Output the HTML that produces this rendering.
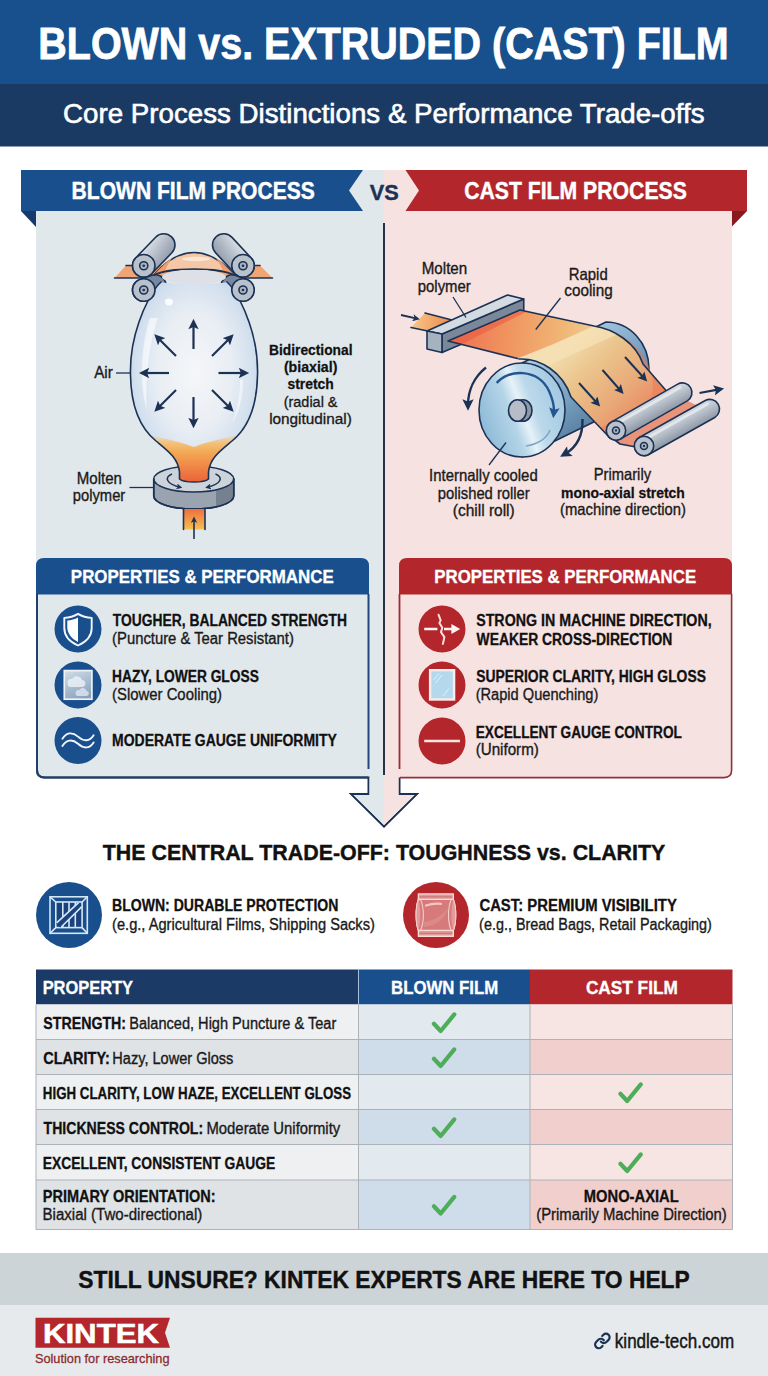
<!DOCTYPE html>
<html><head><meta charset="utf-8"><title>Blown vs. Extruded (Cast) Film</title>
<style>
html,body{margin:0;padding:0;background:#fff;}
body{width:768px;height:1376px;overflow:hidden;font-family:"Liberation Sans",sans-serif;}
svg{display:block;font-family:"Liberation Sans",sans-serif;}
</style></head><body>
<svg width="768" height="1376" viewBox="0 0 768 1376">
<defs>
<linearGradient id="gTop" x1="0" y1="0" x2="0" y2="1"><stop offset="0" stop-color="#1a4a89"/><stop offset="1" stop-color="#1c5192"/></linearGradient>
<linearGradient id="gCyl" x1="0" y1="0" x2="0" y2="1"><stop offset="0" stop-color="#dfe3e8"/><stop offset="0.5" stop-color="#aab3bf"/><stop offset="1" stop-color="#8893a2"/></linearGradient>
<radialGradient id="gBub" cx="0.5" cy="0.45" r="0.58"><stop offset="0" stop-color="#f5f6f8"/><stop offset="0.5" stop-color="#e9eef4"/><stop offset="0.8" stop-color="#d3e0ee"/><stop offset="1" stop-color="#bcd1e8"/></radialGradient>
<linearGradient id="gMelt" gradientUnits="userSpaceOnUse" x1="0" y1="432" x2="0" y2="482"><stop offset="0" stop-color="#f6c98a" stop-opacity="0"/><stop offset="0.22" stop-color="#f5bd6c" stop-opacity="0.9"/><stop offset="0.4" stop-color="#f3a955"/><stop offset="1" stop-color="#ec6238"/></linearGradient>
<linearGradient id="gFilm" x1="0" y1="0" x2="1" y2="0"><stop offset="0" stop-color="#ee6d4a"/><stop offset="0.5" stop-color="#f2a160"/><stop offset="1" stop-color="#f3cf98"/></linearGradient>
<linearGradient id="gFilm2" x1="0" y1="0" x2="1" y2="1"><stop offset="0" stop-color="#f3d29c"/><stop offset="0.5" stop-color="#eea068"/><stop offset="1" stop-color="#ec7a55"/></linearGradient>
<linearGradient id="gRoll" x1="0.05" y1="0.68" x2="0.95" y2="0.32"><stop offset="0" stop-color="#8fbbd8"/><stop offset="0.36" stop-color="#b5d5e8"/><stop offset="0.5" stop-color="#e6f2f8"/><stop offset="0.64" stop-color="#bcd9ea"/><stop offset="1" stop-color="#a3c9e1"/></linearGradient>
<linearGradient id="gGlass" x1="0" y1="0" x2="1" y2="1"><stop offset="0" stop-color="#d9ecf7"/><stop offset="1" stop-color="#9fcbe6"/></linearGradient>
<linearGradient id="gHaze" x1="0.2" y1="0" x2="0.6" y2="1"><stop offset="0" stop-color="#cdd9e5"/><stop offset="1" stop-color="#8aa3bd"/></linearGradient>
<marker id="ah" viewBox="0 0 10 10" refX="5" refY="5" markerWidth="5" markerHeight="4.7" orient="auto-start-reverse"><path d="M0,0 L10,5 L0,10 L2,5 z" fill="#1c3254"/></marker>
<marker id="ahb" viewBox="0 0 10 10" refX="5" refY="5" markerWidth="4.6" markerHeight="4.4" orient="auto-start-reverse"><path d="M0,0 L10,5 L0,10 L2,5 z" fill="#245590"/></marker>
<marker id="ahs" viewBox="0 0 10 10" refX="6" refY="5" markerWidth="4" markerHeight="4" orient="auto-start-reverse"><path d="M0,0 L10,5 L0,10 L2.5,5 z" fill="#1c3254"/></marker>
</defs>
<rect x="0" y="0" width="768" height="84" fill="#17508c"/>
<rect x="0" y="84" width="768" height="62.5" fill="#1a3a64"/>
<text x="38.36" y="59.00" font-size="43.50" font-weight="bold" fill="#fff" stroke="#fff" stroke-width="0.78" textLength="690.28" lengthAdjust="spacingAndGlyphs">BLOWN vs. EXTRUDED (CAST) FILM</text>
<text x="63.10" y="123.00" font-size="26.80" fill="#fff" stroke="#fff" stroke-width="0.59" textLength="641.40" lengthAdjust="spacingAndGlyphs">Core Process Distinctions &amp; Performance Trade-offs</text>
<path d="M36,170 H384 V800 H368 V778 H44 Q36,778 36,770 Z" fill="#e1e8ec"/>
<path d="M384,170 H732 V770 Q732,778 724,778 H399 V800 H384 Z" fill="#f5e2e1"/>
<path d="M21,170 H363 L349,190.5 L363,211 H21 Z" fill="#1a4f8e"/>
<path d="M21,211 H36 V227 Z" fill="#153a6b"/>
<path d="M747,170 H405.5 L419,190.5 L405.5,211 H747 Z" fill="#b3272c"/>
<path d="M747,211 H732 V226.5 Z" fill="#87191f"/>
<text x="71.59" y="199.00" font-size="23.00" font-weight="bold" fill="#fff" stroke="#fff" stroke-width="0.41" textLength="243.23" lengthAdjust="spacingAndGlyphs">BLOWN FILM PROCESS</text>
<text x="464.13" y="199.00" font-size="23.00" font-weight="bold" fill="#fff" stroke="#fff" stroke-width="0.41" textLength="222.70" lengthAdjust="spacingAndGlyphs">CAST FILM PROCESS</text>
<text x="369.85" y="200.00" font-size="22.50" font-weight="bold" fill="#1c3254" stroke="#1c3254" stroke-width="0.40" textLength="29.00" lengthAdjust="spacingAndGlyphs">VS</text>
<rect x="383" y="223" width="2" height="552" fill="#243147"/>
<path d="M114.5,278 L126,265.5 H260 L272.5,278 Z" fill="#f0a674"/>
<path d="M114.5,278 H272.5" fill="none" stroke="#1c3254" stroke-width="1.6" stroke-linejoin="round" stroke-linecap="round"/>
<path d="M126,265.5 H135 M251,265.5 H260" fill="none" stroke="#1c3254" stroke-width="1.6" stroke-linejoin="round" stroke-linecap="round"/>
<path d="M154,275 C165,262 178,252.5 194,252.5 C210,252.5 223,262 234,275 C220,268 168,268 154,275 Z" fill="#f4c8a6" stroke="#1c3254" stroke-width="1.6" stroke-linejoin="round" stroke-linecap="round"/>
<path d="M154,275 C160,268 166,262 172,258 C168,264 166,268 165,271 Z" fill="#ef9c6c"/>
<path d="M234,275 C228,268 222,262 216,258 C220,264 222,268 223,271 Z" fill="#ef9c6c"/>
<ellipse cx="196" cy="259" rx="14" ry="2.2" fill="#fbe6d6"/>
<linearGradient id="gCylL" gradientUnits="userSpaceOnUse" x1="140" y1="250" x2="165" y2="268"><stop offset="0" stop-color="#e3e7ec"/><stop offset="0.5" stop-color="#b4bcc8"/><stop offset="1" stop-color="#8b95a4"/></linearGradient>
<linearGradient id="gCylR" gradientUnits="userSpaceOnUse" x1="247" y1="250" x2="222" y2="268"><stop offset="0" stop-color="#e3e7ec"/><stop offset="0.5" stop-color="#b4bcc8"/><stop offset="1" stop-color="#8b95a4"/></linearGradient>
<path d="M147.52,300.60 L158.77,296.60 A11.25,11.25 0 0 0 151.23,275.40 L139.98,279.40 A11.25,11.25 0 0 0 147.52,300.60 Z" fill="#7687a0" stroke="#1c3254" stroke-width="1.6" stroke-linejoin="round" stroke-linecap="round"/>
<path d="M246.84,279.43 L235.84,275.43 A11.25,11.25 0 0 0 228.16,296.57 L239.16,300.57 A11.25,11.25 0 0 0 246.84,279.43 Z" fill="#7687a0" stroke="#1c3254" stroke-width="1.6" stroke-linejoin="round" stroke-linecap="round"/>
<path d="M153.75,479 V496 A40,13 0 0 0 233.75,496 V479 Z" fill="#9aa4b1" stroke="#1c3254" stroke-width="1.6" stroke-linejoin="round" stroke-linecap="round"/>
<path d="M216,490.5 V507.5 A40,13 0 0 0 233.75,496 V479 A40,13 0 0 1 216,490.5 Z" fill="#76818f"/>
<ellipse cx="193.75" cy="479" rx="40" ry="13" fill="#cdd3da" stroke="#1c3254" stroke-width="1.6" stroke-linejoin="round" stroke-linecap="round"/>
<path d="M153.75,479 V496 A40,13 0 0 0 233.75,496 V479" fill="none" stroke="#1c3254" stroke-width="1.6" stroke-linejoin="round" stroke-linecap="round"/>
<path d="M172,474 C164,477 166,484 180,487.2" stroke="#1c3254" stroke-width="1.5" fill="none" marker-end="url(#ahs)"/>
<path d="M215.5,474 C223.5,477 221.5,484 207.5,487.2" stroke="#1c3254" stroke-width="1.5" fill="none" marker-end="url(#ahs)"/>
<clipPath id="cBub"><path d="M161,282 C172,285 216,285 227,282 C236,290 245,310 249,322 C256,342 258,358 257.5,375 C257,405 248,428 232,441 C220,451 210,458 208.5,472 L208.5,479 C204,483 184,483 179.5,479 L179.5,472 C178,458 168,451 156,441 C140,428 131,405 130.5,375 C130,358 132,342 139,322 C143,310 152,290 161,282 Z"/></clipPath>
<path d="M161,282 C172,285 216,285 227,282 C236,290 245,310 249,322 C256,342 258,358 257.5,375 C257,405 248,428 232,441 C220,451 210,458 208.5,472 L208.5,479 C204,483 184,483 179.5,479 L179.5,472 C178,458 168,451 156,441 C140,428 131,405 130.5,375 C130,358 132,342 139,322 C143,310 152,290 161,282 Z" fill="url(#gBub)"/>
<g clip-path="url(#cBub)">
<path d="M125,430 C150,436 170,438 194,447 C218,438 238,436 263,430 V495 H125 Z" fill="url(#gMelt)"/>
<path d="M150,318 C141,345 139,385 147,410 C145,385 148,345 158,318 Z" fill="#fff" opacity="0.6"/><path d="M243,380 C243,398 239,412 232,424 C237,410 240,396 240,380 Z" fill="#fff" opacity="0.5"/>
<ellipse cx="169" cy="302" rx="4" ry="3.4" fill="#fff" opacity="0.85"/>
</g>
<path d="M227,282 C236,290 245,310 249,322 C256,342 258,358 257.5,375 C257,405 248,428 232,441 C220,451 210,458 208.5,472 L208.5,479 C204,483 184,483 179.5,479 L179.5,472 C178,458 168,451 156,441 C140,428 131,405 130.5,375 C130,358 132,342 139,322 C143,310 152,290 161,282" fill="none" stroke="#1c3254" stroke-width="1.6" stroke-linejoin="round" stroke-linecap="round"/>
<ellipse cx="194" cy="277" rx="32" ry="7.5" fill="#dde1e7"/>
<path d="M154,275 C168,267 220,267 234,275" fill="none" stroke="#1c3254" stroke-width="1.6" stroke-linejoin="round" stroke-linecap="round"/>
<path d="M151.85,273.56 L171.85,252.81 A11.25,11.25 0 0 0 155.65,237.19 L135.65,257.94 A11.25,11.25 0 0 0 151.85,273.56 Z" fill="url(#gCylL)" stroke="#1c3254" stroke-width="1.6" stroke-linejoin="round" stroke-linecap="round"/>
<path d="M251.25,258.10 L232.00,237.35 A11.25,11.25 0 0 0 215.50,252.65 L234.75,273.40 A11.25,11.25 0 0 0 251.25,258.10 Z" fill="url(#gCylR)" stroke="#1c3254" stroke-width="1.6" stroke-linejoin="round" stroke-linecap="round"/>
<circle cx="143.75" cy="265.75" r="11.25" fill="#b9c1cc" stroke="#1c3254" stroke-width="1.6" stroke-linejoin="round" stroke-linecap="round"/>
<circle cx="143.75" cy="265.75" r="4.05" fill="#aab3c0" stroke="#1c3254" stroke-width="1.6" stroke-linejoin="round" stroke-linecap="round"/>
<circle cx="143.75" cy="265.75" r="1.35" fill="#1c3254"/>
<circle cx="243.00" cy="265.75" r="11.25" fill="#b9c1cc" stroke="#1c3254" stroke-width="1.6" stroke-linejoin="round" stroke-linecap="round"/>
<circle cx="243.00" cy="265.75" r="4.05" fill="#aab3c0" stroke="#1c3254" stroke-width="1.6" stroke-linejoin="round" stroke-linecap="round"/>
<circle cx="243.00" cy="265.75" r="1.35" fill="#1c3254"/>
<circle cx="143.75" cy="290.00" r="11.25" fill="#b9c1cc" stroke="#1c3254" stroke-width="1.6" stroke-linejoin="round" stroke-linecap="round"/>
<circle cx="143.75" cy="290.00" r="4.05" fill="#aab3c0" stroke="#1c3254" stroke-width="1.6" stroke-linejoin="round" stroke-linecap="round"/>
<circle cx="143.75" cy="290.00" r="1.35" fill="#1c3254"/>
<circle cx="243.00" cy="290.00" r="11.25" fill="#b9c1cc" stroke="#1c3254" stroke-width="1.6" stroke-linejoin="round" stroke-linecap="round"/>
<circle cx="243.00" cy="290.00" r="4.05" fill="#aab3c0" stroke="#1c3254" stroke-width="1.6" stroke-linejoin="round" stroke-linecap="round"/>
<circle cx="243.00" cy="290.00" r="1.35" fill="#1c3254"/>
<line x1="193.5" y1="349.0" x2="193.5" y2="324.0" stroke="#1c3254" stroke-width="2.2" fill="none" marker-end="url(#ah)"/>
<line x1="193.5" y1="397.0" x2="193.5" y2="423.0" stroke="#1c3254" stroke-width="2.2" fill="none" marker-end="url(#ah)"/>
<line x1="169.0" y1="373.0" x2="144.0" y2="373.0" stroke="#1c3254" stroke-width="2.2" fill="none" marker-end="url(#ah)"/>
<line x1="218.5" y1="373.0" x2="244.0" y2="373.0" stroke="#1c3254" stroke-width="2.2" fill="none" marker-end="url(#ah)"/>
<line x1="176.0" y1="356.0" x2="158.0" y2="338.0" stroke="#1c3254" stroke-width="2.2" fill="none" marker-end="url(#ah)"/>
<line x1="212.0" y1="356.0" x2="230.0" y2="338.0" stroke="#1c3254" stroke-width="2.2" fill="none" marker-end="url(#ah)"/>
<line x1="176.0" y1="390.0" x2="158.0" y2="408.0" stroke="#1c3254" stroke-width="2.2" fill="none" marker-end="url(#ah)"/>
<line x1="212.0" y1="390.0" x2="230.0" y2="408.0" stroke="#1c3254" stroke-width="2.2" fill="none" marker-end="url(#ah)"/>
<text x="94.22" y="377.50" font-size="16.50" fill="#1a1a1a" stroke="#1a1a1a" stroke-width="0.36" textLength="18.53" lengthAdjust="spacingAndGlyphs">Air</text>
<line x1="116" y1="373" x2="130" y2="373" stroke="#1c3254" stroke-width="1.3"/>
<linearGradient id="gFeed" x1="0" y1="0" x2="0" y2="1"><stop offset="0" stop-color="#ee6f3e"/><stop offset="1" stop-color="#f5c04f"/></linearGradient>
<rect x="183.5" y="509" width="21.5" height="20.5" fill="url(#gFeed)"/>
<path d="M183.5,509 V529.5 M205,509 V529.5" fill="none" stroke="#1c3254" stroke-width="1.6" stroke-linejoin="round" stroke-linecap="round"/>
<line x1="194" y1="539" x2="194" y2="519" stroke="#1c3254" stroke-width="1.6" marker-end="url(#ahs)"/>
<text x="76.76" y="483.75" font-size="16.50" fill="#1a1a1a" stroke="#1a1a1a" stroke-width="0.36" textLength="45.21" lengthAdjust="spacingAndGlyphs">Molten</text>
<text x="72.80" y="501.25" font-size="16.50" fill="#1a1a1a" stroke="#1a1a1a" stroke-width="0.36" textLength="52.45" lengthAdjust="spacingAndGlyphs">polymer</text>
<line x1="129.5" y1="487.5" x2="153.75" y2="487.5" stroke="#1c3254" stroke-width="1.3"/>
<text x="269.08" y="355.00" font-size="15.00" font-weight="bold" fill="#111" stroke="#111" stroke-width="0.27" textLength="83.40" lengthAdjust="spacingAndGlyphs">Bidirectional</text>
<text x="283.89" y="372.00" font-size="15.00" font-weight="bold" fill="#111" stroke="#111" stroke-width="0.27" textLength="53.51" lengthAdjust="spacingAndGlyphs">(biaxial)</text>
<text x="287.51" y="389.40" font-size="15.00" font-weight="bold" fill="#111" stroke="#111" stroke-width="0.27" textLength="46.35" lengthAdjust="spacingAndGlyphs">stretch</text>
<text x="283.70" y="407.00" font-size="15.50" fill="#1a1a1a" stroke="#1a1a1a" stroke-width="0.34" textLength="53.82" lengthAdjust="spacingAndGlyphs">(radial &amp;</text>
<text x="269.17" y="424.20" font-size="15.50" fill="#1a1a1a" stroke="#1a1a1a" stroke-width="0.34" textLength="82.58" lengthAdjust="spacingAndGlyphs">longitudinal)</text>
<linearGradient id="gFeed2" gradientUnits="userSpaceOnUse" x1="411" y1="320" x2="450" y2="325"><stop offset="0" stop-color="#f6c98c"/><stop offset="1" stop-color="#ee8a4e"/></linearGradient>
<path d="M425,313 L452,320 L440,334 L411,327.5 Z" fill="url(#gFeed2)"/>
<path d="M425,313 L452,320 M411,327.5 L430,331.5" fill="none" stroke="#1c3254" stroke-width="1.6" stroke-linejoin="round" stroke-linecap="round"/>
<line x1="401" y1="315" x2="417" y2="318.6" stroke="#1c3254" stroke-width="1.8" marker-end="url(#ahs)"/>
<linearGradient id="gBody" gradientUnits="userSpaceOnUse" x1="535" y1="360" x2="590" y2="440"><stop offset="0" stop-color="#a9cbe3"/><stop offset="0.45" stop-color="#7ea6c5"/><stop offset="1" stop-color="#4f7697"/></linearGradient>
<path d="M522,363 L606,322 A43,47 0 0 1 649,369 A43,47 0 0 1 606,416 L522,457 Z" fill="url(#gBody)" stroke="#1c3254" stroke-width="1.6" stroke-linejoin="round" stroke-linecap="round"/>
<linearGradient id="gF1" gradientUnits="userSpaceOnUse" x1="455" y1="335" x2="600" y2="350"><stop offset="0" stop-color="#ee7252"/><stop offset="0.35" stop-color="#f0935f"/><stop offset="0.75" stop-color="#f0b877"/><stop offset="1" stop-color="#eecf9a"/></linearGradient>
<linearGradient id="gF2" gradientUnits="userSpaceOnUse" x1="570" y1="345" x2="640" y2="420"><stop offset="0" stop-color="#f1dbac"/><stop offset="0.3" stop-color="#ebc48c"/><stop offset="0.7" stop-color="#e9a877"/><stop offset="1" stop-color="#ea8a64"/></linearGradient>
<path d="M442,334 L523.75,299 L523.75,317.5 L442,352.5 Z" fill="#7b8899" stroke="#1c3254" stroke-width="1.6" stroke-linejoin="round" stroke-linecap="round"/>
<path d="M519,359 C540,358 563,372 571,397 L610,438 L676,402 L643,364 C636,343 614,329 594,326 Z" fill="url(#gF2)"/>
<path d="M448,341 L520,310 L594,326 C575,335 540,350 517.5,358.5 Z" fill="url(#gF1)"/>
<path d="M521,359 L594,326 C604,327 612,330 618,334 L547,366 C540,362 531,359.5 521,359 Z" fill="#f7e3b8" opacity="0.65"/>
<path d="M604,328 C640,338 668,378 644,415 L610,438 L676,402 L643,364 C636,343 614,329 594,326 Z" fill="#ec7a58" opacity="0.55"/>
<path d="M610,438 L676,402 L668,392 L600,428 Z" fill="#ec7a58" opacity="0.5"/>
<path d="M448,341 L520,310 L527,311.5 L462,344 Z" fill="#e9573f" opacity="0.55"/>
<path d="M448,341 L520,310 M448,341 L517.5,358.5 M520,310 L594,326 C614,329 636,343 643,364 L676,402 M519,359 C540,358 563,372 571,397 L610,438" fill="none" stroke="#1c3254" stroke-width="1.6" stroke-linejoin="round" stroke-linecap="round"/>
<line x1="579.0" y1="383.0" x2="597.0" y2="403.0" stroke="#1c3254" stroke-width="2" marker-end="url(#ah)"/>
<line x1="602.5" y1="370.0" x2="620.5" y2="390.5" stroke="#1c3254" stroke-width="2" marker-end="url(#ah)"/>
<line x1="625.0" y1="357.0" x2="644.0" y2="378.0" stroke="#1c3254" stroke-width="2" marker-end="url(#ah)"/>
<path d="M427,331 L507.5,295 L523.75,299 L442,334 Z" fill="#d3dae2" stroke="#1c3254" stroke-width="1.6" stroke-linejoin="round" stroke-linecap="round"/>
<path d="M427,331 L442,334 L442,352.5 L427,349 Z" fill="#a7b2c0" stroke="#1c3254" stroke-width="1.6" stroke-linejoin="round" stroke-linecap="round"/>
<ellipse cx="522" cy="410" rx="43" ry="47" fill="url(#gRoll)" stroke="#1c3254" stroke-width="1.6" stroke-linejoin="round" stroke-linecap="round"/>
<path d="M496.7,383 C508,369 538,368 549,391 C553,400 554.5,407 553.8,413" fill="none" stroke="#245590" stroke-width="2.4" marker-end="url(#ahb)"/>
<path d="M526,446 C538,444 547,438 550,430" fill="none" stroke="#7fa6c6" stroke-width="1.6"/>
<ellipse cx="523" cy="410.5" rx="9" ry="10.8" fill="#8e98a6" stroke="#1c3254" stroke-width="1.6" stroke-linejoin="round" stroke-linecap="round"/>
<ellipse cx="517.5" cy="410.5" rx="9" ry="10.8" fill="#b7bdc6" stroke="#1c3254" stroke-width="1.6" stroke-linejoin="round" stroke-linecap="round"/>
<path d="M486,367.5 C474,377 468,391 468,405" fill="none" stroke="#1c3254" stroke-width="2.4" marker-end="url(#ah)"/>
<path d="M582.5,419 C583,435 577,447 565,454" fill="none" stroke="#1c3254" stroke-width="2.4" marker-end="url(#ah)"/>
<linearGradient id="gN1" gradientUnits="userSpaceOnUse" x1="640" y1="400" x2="652" y2="422"><stop offset="0" stop-color="#e6e9ed"/><stop offset="0.5" stop-color="#b9c1cb"/><stop offset="1" stop-color="#8a95a3"/></linearGradient>
<linearGradient id="gN2" gradientUnits="userSpaceOnUse" x1="668" y1="416" x2="680" y2="438"><stop offset="0" stop-color="#e6e9ed"/><stop offset="0.5" stop-color="#b9c1cb"/><stop offset="1" stop-color="#8a95a3"/></linearGradient>
<path d="M607,434 L621,439.5 L688,401 L700,407 L638,447 L620,444 Z" fill="#e9937a"/>
<path d="M607,434 L620,444 L636,447" fill="none" stroke="#1c3254" stroke-width="1.6" stroke-linejoin="round" stroke-linecap="round"/>
<path d="M620.81,438.92 L687.31,400.92 A9.70,9.70 0 0 0 677.69,384.08 L611.19,422.08 A9.70,9.70 0 0 0 620.81,438.92 Z" fill="url(#gN1)" stroke="#1c3254" stroke-width="1.6" stroke-linejoin="round" stroke-linecap="round"/>
<line x1="614.5" y1="425" x2="680" y2="387.5" stroke="#eef1f4" stroke-width="3" opacity="0.7" stroke-linecap="round"/>
<circle cx="616.00" cy="430.50" r="9.70" fill="#b9c1cc" stroke="#1c3254" stroke-width="1.6" stroke-linejoin="round" stroke-linecap="round"/>
<circle cx="616.00" cy="430.50" r="3.49" fill="#aab3c0" stroke="#1c3254" stroke-width="1.6" stroke-linejoin="round" stroke-linecap="round"/>
<circle cx="616.00" cy="430.50" r="1.16" fill="#1c3254"/>
<path d="M648.74,454.46 L714.74,417.46 A9.70,9.70 0 0 0 705.26,400.54 L639.26,437.54 A9.70,9.70 0 0 0 648.74,454.46 Z" fill="url(#gN2)" stroke="#1c3254" stroke-width="1.6" stroke-linejoin="round" stroke-linecap="round"/>
<line x1="643" y1="440.5" x2="707.5" y2="404" stroke="#eef1f4" stroke-width="3" opacity="0.7" stroke-linecap="round"/>
<circle cx="644.00" cy="446.00" r="9.70" fill="#b9c1cc" stroke="#1c3254" stroke-width="1.6" stroke-linejoin="round" stroke-linecap="round"/>
<circle cx="644.00" cy="446.00" r="3.49" fill="#aab3c0" stroke="#1c3254" stroke-width="1.6" stroke-linejoin="round" stroke-linecap="round"/>
<circle cx="644.00" cy="446.00" r="1.16" fill="#1c3254"/>
<line x1="699.5" y1="393" x2="719" y2="389.4" stroke="#1c3254" stroke-width="2.2" marker-end="url(#ah)"/>
<text x="421.76" y="274.25" font-size="16.50" fill="#1a1a1a" stroke="#1a1a1a" stroke-width="0.36" textLength="45.48" lengthAdjust="spacingAndGlyphs">Molten</text>
<text x="417.79" y="291.75" font-size="16.50" fill="#1a1a1a" stroke="#1a1a1a" stroke-width="0.36" textLength="52.96" lengthAdjust="spacingAndGlyphs">polymer</text>
<line x1="453" y1="297" x2="466" y2="317.5" stroke="#1c3254" stroke-width="1.3"/>
<text x="568.78" y="280.00" font-size="16.50" fill="#1a1a1a" stroke="#1a1a1a" stroke-width="0.36" textLength="38.93" lengthAdjust="spacingAndGlyphs">Rapid</text>
<text x="564.35" y="296.25" font-size="16.50" fill="#1a1a1a" stroke="#1a1a1a" stroke-width="0.36" textLength="48.38" lengthAdjust="spacingAndGlyphs">cooling</text>
<line x1="560.5" y1="298" x2="535.75" y2="329.5" stroke="#1c3254" stroke-width="1.3"/>
<line x1="506" y1="442.5" x2="489" y2="465" stroke="#1c3254" stroke-width="1.3"/>
<text x="429.12" y="481.25" font-size="16.50" fill="#1a1a1a" stroke="#1a1a1a" stroke-width="0.36" textLength="108.59" lengthAdjust="spacingAndGlyphs">Internally cooled</text>
<text x="437.80" y="498.75" font-size="16.50" fill="#1a1a1a" stroke="#1a1a1a" stroke-width="0.36" textLength="91.95" lengthAdjust="spacingAndGlyphs">polished roller</text>
<text x="452.79" y="515.75" font-size="16.50" fill="#1a1a1a" stroke="#1a1a1a" stroke-width="0.36" textLength="61.92" lengthAdjust="spacingAndGlyphs">(chill roll)</text>
<text x="593.79" y="480.00" font-size="16.50" fill="#1a1a1a" stroke="#1a1a1a" stroke-width="0.36" textLength="57.24" lengthAdjust="spacingAndGlyphs">Primarily</text>
<text x="561.08" y="497.50" font-size="15.50" font-weight="bold" fill="#111" stroke="#111" stroke-width="0.28" textLength="123.78" lengthAdjust="spacingAndGlyphs">mono-axial stretch</text>
<text x="560.08" y="515.00" font-size="16.50" fill="#1a1a1a" stroke="#1a1a1a" stroke-width="0.36" textLength="125.84" lengthAdjust="spacingAndGlyphs">(machine direction)</text>
<path d="M36,594.5 V566 Q36,558 44,558 H361 Q369,558 369,566 V594.5 Z" fill="#1a4f8e"/>
<path d="M399,594.5 V566 Q399,558 407,558 H724 Q732,558 732,566 V594.5 Z" fill="#b3272c"/>
<path d="M37,594 V770 Q37,777.5 44.5,777.5 H368.5 V794 H351 L384,826.5 L417,794 H399.5 V777.5" fill="none" stroke="#1c3254" stroke-width="2" stroke-linejoin="miter"/>
<path d="M368.5,594 V769" fill="none" stroke="#21477a" stroke-width="2"/>
<path d="M37,594 V770 Q37,777.5 44.5,777.5 H368" fill="none" stroke="#20406b" stroke-width="2"/>
<path d="M399.5,594 V769" fill="none" stroke="#9a2c31" stroke-width="1.8"/>
<path d="M400,777.6 H724 Q731.6,777.6 731.6,770 V594" fill="none" stroke="#8f3339" stroke-width="1.6"/>
<path d="M369.5,777.5 V795 H353.5 L384,825 V777.5 Z" fill="#e1e8ec"/>
<path d="M398.5,777.5 V795 H414.5 L384,825 V777.5 Z" fill="#f5e2e1"/>
<text x="70.87" y="582.60" font-size="18.80" font-weight="bold" fill="#fff" stroke="#fff" stroke-width="0.34" textLength="262.79" lengthAdjust="spacingAndGlyphs">PROPERTIES &amp; PERFORMANCE</text>
<text x="434.37" y="582.60" font-size="18.80" font-weight="bold" fill="#fff" stroke="#fff" stroke-width="0.34" textLength="261.78" lengthAdjust="spacingAndGlyphs">PROPERTIES &amp; PERFORMANCE</text>
<circle cx="78" cy="629.0" r="23.5" fill="#1a4f8e"/>
<circle cx="78" cy="685.0" r="23.5" fill="#1a4f8e"/>
<circle cx="78" cy="740.5" r="23.5" fill="#1a4f8e"/>
<circle cx="442" cy="629.0" r="23.5" fill="#b3272c"/>
<circle cx="442" cy="685.0" r="23.5" fill="#b3272c"/>
<circle cx="442" cy="741.0" r="23.5" fill="#b3272c"/>
<text x="112.84" y="625.90" font-size="16.00" font-weight="bold" fill="#111" stroke="#111" stroke-width="0.29" textLength="234.19" lengthAdjust="spacingAndGlyphs">TOUGHER, BALANCED STRENGTH</text>
<text x="112.09" y="644.30" font-size="16.00" fill="#1a1a1a" stroke="#1a1a1a" stroke-width="0.35" textLength="181.82" lengthAdjust="spacingAndGlyphs">(Puncture &amp; Tear Resistant)</text>
<text x="112.09" y="681.50" font-size="16.00" font-weight="bold" fill="#111" stroke="#111" stroke-width="0.29" textLength="146.74" lengthAdjust="spacingAndGlyphs">HAZY, LOWER GLOSS</text>
<text x="112.08" y="700.20" font-size="16.00" fill="#1a1a1a" stroke="#1a1a1a" stroke-width="0.35" textLength="109.94" lengthAdjust="spacingAndGlyphs">(Slower Cooling)</text>
<text x="112.07" y="746.30" font-size="16.00" font-weight="bold" fill="#111" stroke="#111" stroke-width="0.29" textLength="224.75" lengthAdjust="spacingAndGlyphs">MODERATE GAUGE UNIFORMITY</text>
<text x="476.19" y="626.10" font-size="16.00" font-weight="bold" fill="#111" stroke="#111" stroke-width="0.29" textLength="235.46" lengthAdjust="spacingAndGlyphs">STRONG IN MACHINE DIRECTION,</text>
<text x="476.59" y="644.60" font-size="16.00" font-weight="bold" fill="#111" stroke="#111" stroke-width="0.29" textLength="195.75" lengthAdjust="spacingAndGlyphs">WEAKER CROSS-DIRECTION</text>
<text x="476.20" y="681.80" font-size="16.00" font-weight="bold" fill="#111" stroke="#111" stroke-width="0.29" textLength="229.74" lengthAdjust="spacingAndGlyphs">SUPERIOR CLARITY, HIGH GLOSS</text>
<text x="475.69" y="699.80" font-size="16.00" fill="#1a1a1a" stroke="#1a1a1a" stroke-width="0.35" textLength="122.61" lengthAdjust="spacingAndGlyphs">(Rapid Quenching)</text>
<text x="475.69" y="737.70" font-size="16.00" font-weight="bold" fill="#111" stroke="#111" stroke-width="0.29" textLength="206.13" lengthAdjust="spacingAndGlyphs">EXCELLENT GAUGE CONTROL</text>
<text x="475.66" y="755.40" font-size="16.00" fill="#1a1a1a" stroke="#1a1a1a" stroke-width="0.35" textLength="63.18" lengthAdjust="spacingAndGlyphs">(Uniform)</text>
<path d="M78,613.9 C82,616.3 87,617.7 91.7,617.9 L91.7,628 C91.7,636 86,642 78,645.5 C70,642 64.3,636 64.3,628 L64.3,617.9 C69,617.7 74,616.3 78,613.9 Z" fill="none" stroke="#f2f6fa" stroke-width="1.9" stroke-linejoin="round"/>
<path d="M78,617.5 V642 C71.5,638.8 67.3,633.6 67.3,627.6 V620.5 C71,620.2 75,619.2 78,617.5 Z" fill="#fff"/>
<rect x="64.3" y="670.6" width="27.6" height="28.6" fill="url(#gHaze)" stroke="#eef2f6" stroke-width="1.7"/>
<path d="M67.5,683.5 a4,4 0 0 1 4.6,-4.8 a5.6,5.6 0 0 1 10,1.2 a3.6,3.6 0 0 1 0.4,7.1 h-12 a3,3 0 0 1 -3,-3.5 z" fill="#e9eef4" opacity="0.85"/>
<path d="M75.5,693.5 a3,3 0 0 1 3.8,-3.4 a4,4 0 0 1 7.4,0.8 a2.6,2.6 0 0 1 0.2,5.1 h-9 a2.4,2.4 0 0 1 -2.4,-2.5 z" fill="#dbe3ec" opacity="0.85"/>
<path d="M62.4,738.8 C66.5,732.5 72,731.5 78,736.6 C84,741.8 89.5,741.5 93.6,735.2 M62.4,746 C66.5,739.7 72,738.7 78,743.8 C84,749 89.5,748.7 93.6,742.4" fill="none" stroke="#f2f6fa" stroke-width="1.9" stroke-linecap="round"/>
<path d="M424.2,629 H437.4 M444,629 H452.5" stroke="#fdf3f2" stroke-width="2.4" fill="none"/>
<path d="M451.4,623.9 L460.2,629 L451.4,634.1 Z" fill="#fdf3f2"/>
<path d="M438.6,614.8 L440.7,620.4 L439.4,622.9 L442.3,627.8 L441,632.1 L444.4,637.1 L442.9,643.9" stroke="#fbe0dd" stroke-width="2" fill="none" stroke-linejoin="round" stroke-linecap="round"/>
<rect x="430.1" y="670.2" width="24" height="29.3" fill="#b5d9ec" stroke="#fbeceb" stroke-width="2.4"/>
<path d="M433.5,680 L439,673.5 M435.5,683 L442,675 M443,696 L449,688.5" stroke="#e6f4fb" stroke-width="1" opacity="0.95"/>
<path d="M424.2,741 H460" stroke="#fbe3e1" stroke-width="2.4"/>
<text x="102.76" y="859.50" font-size="22.80" font-weight="bold" fill="#111" stroke="#111" stroke-width="0.41" textLength="562.58" lengthAdjust="spacingAndGlyphs">THE CENTRAL TRADE-OFF: TOUGHNESS vs. CLARITY</text>
<circle cx="69" cy="915" r="33" fill="#1a4f8e"/>
<circle cx="436" cy="915" r="33" fill="#b3272c"/>
<text x="112.06" y="911.00" font-size="16.00" font-weight="bold" fill="#111" stroke="#111" stroke-width="0.29" textLength="226.39" lengthAdjust="spacingAndGlyphs">BLOWN: DURABLE PROTECTION</text>
<text x="112.09" y="930.40" font-size="16.00" fill="#1a1a1a" stroke="#1a1a1a" stroke-width="0.35" textLength="262.81" lengthAdjust="spacingAndGlyphs">(e.g., Agricultural Films, Shipping Sacks)</text>
<text x="479.40" y="911.00" font-size="16.00" font-weight="bold" fill="#111" stroke="#111" stroke-width="0.29" textLength="197.44" lengthAdjust="spacingAndGlyphs">CAST: PREMIUM VISIBILITY</text>
<text x="479.11" y="930.40" font-size="16.00" fill="#1a1a1a" stroke="#1a1a1a" stroke-width="0.35" textLength="232.78" lengthAdjust="spacingAndGlyphs">(e.g., Bread Bags, Retail Packaging)</text>
<rect x="55.8" y="902" width="26.3" height="25.6" fill="#1a427c"/>
<g fill="none" stroke="#d6e7f6" stroke-width="1.6"><rect x="50" y="896.8" width="37.3" height="36.5"/><rect x="55.8" y="902" width="26.3" height="25.6"/><path d="M50,896.8 L55.8,902 M87.3,896.8 L82.1,902 M50,933.3 L55.8,927.6 M87.3,933.3 L82.1,927.6"/><path d="M62.8,902 V927.6 M69,902 V927.6 M75.3,902 V927.6"/></g>
<path d="M58.2,925.6 L80.2,904.4" stroke="#1a427c" stroke-width="5.6"/>
<path d="M56.6,922.9 L78.6,902.6 M61.25,927 L82.1,906.4" stroke="#d6e7f6" stroke-width="1.6" fill="none"/>
<path d="M418.4,893.9 H453.3 V899.4 C456.4,908 456.4,922 453.3,930.4 V936.2 H418.4 V930.4 C415.5,922 415.5,908 418.4,899.4 Z" fill="#e29a99" stroke="#f9dbd8" stroke-width="1.4" stroke-linejoin="round"/>
<path d="M418.4,899.4 H453.3 C456.4,908 456.4,922 453.3,930.4 H418.4 C415.5,922 415.5,908 418.4,899.4 Z" fill="#d67a7c" stroke="#f9dbd8" stroke-width="1.3"/>
<path d="M420.5,899.4 C424.3,908 424.3,922 420.5,930.4 M451.2,899.4 C447.6,908 447.6,922 451.2,930.4" fill="none" stroke="#f6cfcc" stroke-width="1.1"/>
<path d="M418.4,899.4 C421,908 421,922 418.4,930.4 C415.5,922 415.5,908 418.4,899.4 Z M453.3,899.4 C450.7,908 450.7,922 453.3,930.4 C456.4,922 456.4,908 453.3,899.4 Z" fill="#e6a3a3" opacity="0.8"/>
<path d="M426,905.5 C431,903.6 436,903.4 441,903.8" stroke="#f6c6c4" stroke-width="2.2" fill="none" stroke-linecap="round"/>
<path d="M424,922 C432,921 442,916 448,908 C446,918 436,926 424,927 Z" fill="#e29593" opacity="0.55"/>
<path d="M419.5,896.8 H452.2 M419.5,933.3 H452.2" stroke="#c97a7b" stroke-width="1.2"/>
<rect x="36" y="969.5" width="322.5" height="35" fill="#1b3a66"/>
<rect x="358.5" y="969.5" width="171.5" height="35" fill="#1a4f8e"/>
<rect x="530" y="969.5" width="202.5" height="35" fill="#b3272c"/>
<rect x="36" y="1004.5" width="322.5" height="35" fill="#eef0f2"/>
<rect x="358.5" y="1004.5" width="171.5" height="35" fill="#e2e9ef"/>
<rect x="530" y="1004.5" width="202.5" height="35" fill="#f6e5e3"/>
<rect x="36" y="1039.5" width="322.5" height="35" fill="#dfe3e6"/>
<rect x="358.5" y="1039.5" width="171.5" height="35" fill="#cfdcea"/>
<rect x="530" y="1039.5" width="202.5" height="35" fill="#f0cfcc"/>
<rect x="36" y="1074.5" width="322.5" height="35" fill="#eef0f2"/>
<rect x="358.5" y="1074.5" width="171.5" height="35" fill="#e2e9ef"/>
<rect x="530" y="1074.5" width="202.5" height="35" fill="#f6e5e3"/>
<rect x="36" y="1109.5" width="322.5" height="35" fill="#dfe3e6"/>
<rect x="358.5" y="1109.5" width="171.5" height="35" fill="#cfdcea"/>
<rect x="530" y="1109.5" width="202.5" height="35" fill="#f0cfcc"/>
<rect x="36" y="1144.5" width="322.5" height="35.5" fill="#eef0f2"/>
<rect x="358.5" y="1144.5" width="171.5" height="35.5" fill="#e2e9ef"/>
<rect x="530" y="1144.5" width="202.5" height="35.5" fill="#f6e5e3"/>
<rect x="36" y="1180" width="322.5" height="49.5" fill="#dfe3e6"/>
<rect x="358.5" y="1180" width="171.5" height="49.5" fill="#cfdcea"/>
<rect x="530" y="1180" width="202.5" height="49.5" fill="#f0cfcc"/>
<path d="M36,1039.5 H732.5 M36,1074.5 H732.5 M36,1109.5 H732.5 M36,1144.5 H732.5 M36,1180 H732.5 M36,1229.5 H732.5 M36,1004.5 V1229.5 M358.5,1004.5 V1229.5 M530,1004.5 V1229.5 M732.5,1004.5 V1229.5" fill="none" stroke="#adb2b8" stroke-width="1"/>
<path d="M358.5,969.5 V1004.5" stroke="#a9c0dc" stroke-width="1"/>
<text x="42.65" y="994.00" font-size="18.50" font-weight="bold" fill="#fff" stroke="#fff" stroke-width="0.33" textLength="90.41" lengthAdjust="spacingAndGlyphs">PROPERTY</text>
<text x="391.08" y="993.80" font-size="18.50" font-weight="bold" fill="#fff" stroke="#fff" stroke-width="0.33" textLength="107.04" lengthAdjust="spacingAndGlyphs">BLOWN FILM</text>
<text x="585.89" y="993.80" font-size="18.50" font-weight="bold" fill="#fff" stroke="#fff" stroke-width="0.33" textLength="91.96" lengthAdjust="spacingAndGlyphs">CAST FILM</text>
<text x="43.34" y="1029.00" font-size="17.30" font-weight="bold" fill="#111" stroke="#111" stroke-width="0.31" textLength="82.77" lengthAdjust="spacingAndGlyphs">STRENGTH:</text>
<text x="129.32" y="1029.00" font-size="17.30" fill="#1a1a1a" stroke="#1a1a1a" stroke-width="0.38" textLength="206.92" lengthAdjust="spacingAndGlyphs">Balanced, High Puncture &amp; Tear</text>
<text x="43.16" y="1064.00" font-size="17.30" font-weight="bold" fill="#111" stroke="#111" stroke-width="0.31" textLength="66.71" lengthAdjust="spacingAndGlyphs">CLARITY:</text>
<text x="112.32" y="1064.00" font-size="17.30" fill="#1a1a1a" stroke="#1a1a1a" stroke-width="0.38" textLength="121.00" lengthAdjust="spacingAndGlyphs">Hazy, Lower Gloss</text>
<text x="42.86" y="1099.00" font-size="17.30" font-weight="bold" fill="#111" stroke="#111" stroke-width="0.31" textLength="308.15" lengthAdjust="spacingAndGlyphs">HIGH CLARITY, LOW HAZE, EXCELLENT GLOSS</text>
<text x="43.59" y="1134.00" font-size="17.30" font-weight="bold" fill="#111" stroke="#111" stroke-width="0.31" textLength="159.56" lengthAdjust="spacingAndGlyphs">THICKNESS CONTROL:</text>
<text x="206.48" y="1134.00" font-size="17.30" fill="#1a1a1a" stroke="#1a1a1a" stroke-width="0.38" textLength="133.75" lengthAdjust="spacingAndGlyphs">Moderate Uniformity</text>
<text x="42.83" y="1168.80" font-size="17.30" font-weight="bold" fill="#111" stroke="#111" stroke-width="0.31" textLength="232.46" lengthAdjust="spacingAndGlyphs">EXCELLENT, CONSISTENT GAUGE</text>
<text x="42.80" y="1201.80" font-size="17.30" font-weight="bold" fill="#111" stroke="#111" stroke-width="0.31" textLength="172.88" lengthAdjust="spacingAndGlyphs">PRIMARY ORIENTATION:</text>
<text x="42.52" y="1219.60" font-size="17.30" fill="#1a1a1a" stroke="#1a1a1a" stroke-width="0.38" textLength="159.81" lengthAdjust="spacingAndGlyphs">Biaxial (Two-directional)</text>
<text x="583.82" y="1201.50" font-size="17.30" font-weight="bold" fill="#111" stroke="#111" stroke-width="0.31" textLength="94.84" lengthAdjust="spacingAndGlyphs">MONO-AXIAL</text>
<text x="536.28" y="1220.10" font-size="17.30" fill="#1a1a1a" stroke="#1a1a1a" stroke-width="0.38" textLength="190.34" lengthAdjust="spacingAndGlyphs">(Primarily Machine Direction)</text>
<path d="M433.9,1023.8 l6.8,7.2 l13.6,-16.6" fill="none" stroke="#4dad58" stroke-width="4.2" stroke-linejoin="round" stroke-linecap="round"/>
<path d="M433.9,1058.8 l6.8,7.2 l13.6,-16.6" fill="none" stroke="#4dad58" stroke-width="4.2" stroke-linejoin="round" stroke-linecap="round"/>
<path d="M433.9,1128.8 l6.8,7.2 l13.6,-16.6" fill="none" stroke="#4dad58" stroke-width="4.2" stroke-linejoin="round" stroke-linecap="round"/>
<path d="M433.9,1206.3 l6.8,7.2 l13.6,-16.6" fill="none" stroke="#4dad58" stroke-width="4.2" stroke-linejoin="round" stroke-linecap="round"/>
<path d="M620.4,1093.8 l6.8,7.2 l13.6,-16.6" fill="none" stroke="#4dad58" stroke-width="4.2" stroke-linejoin="round" stroke-linecap="round"/>
<path d="M620.4,1163.8 l6.8,7.2 l13.6,-16.6" fill="none" stroke="#4dad58" stroke-width="4.2" stroke-linejoin="round" stroke-linecap="round"/>
<rect x="0" y="1253" width="768" height="52" fill="#cdd4d8"/>
<rect x="0" y="1305" width="768" height="71" fill="#e6eaed"/>
<text x="78.34" y="1288.00" font-size="23.50" font-weight="bold" fill="#111" stroke="#111" stroke-width="0.42" textLength="611.43" lengthAdjust="spacingAndGlyphs">STILL UNSURE? KINTEK EXPERTS ARE HERE TO HELP</text>
<path d="M35.5,1317.75 H170 L165,1332.75 L170,1347.75 H35.5 Z" fill="#b3272c"/>
<text x="42.91" y="1342.75" font-size="27.00" font-weight="bold" fill="#fff" stroke="#fff" stroke-width="0.49" textLength="116.13" lengthAdjust="spacingAndGlyphs">KINTEK</text>
<text x="34.92" y="1363.00" font-size="13.30" fill="#8c2a2e" stroke="#8c2a2e" stroke-width="0.29" textLength="134.65" lengthAdjust="spacingAndGlyphs">Solution for researching</text>
<text x="614.85" y="1348.00" font-size="19.60" fill="#151515" stroke="#151515" stroke-width="0.43" textLength="119.27" lengthAdjust="spacingAndGlyphs">kindle-tech.com</text>
<g transform="translate(593.6,1332.2) scale(0.73)" fill="none" stroke="#1c3254" stroke-width="3" stroke-linecap="round" stroke-linejoin="round"><path d="M10 13a5 5 0 0 0 7.54.54l3-3a5 5 0 0 0-7.07-7.07l-1.72 1.71"/><path d="M14 11a5 5 0 0 0-7.54-.54l-3 3a5 5 0 0 0 7.07 7.07l1.71-1.71"/></g>
</svg>
</body></html>
